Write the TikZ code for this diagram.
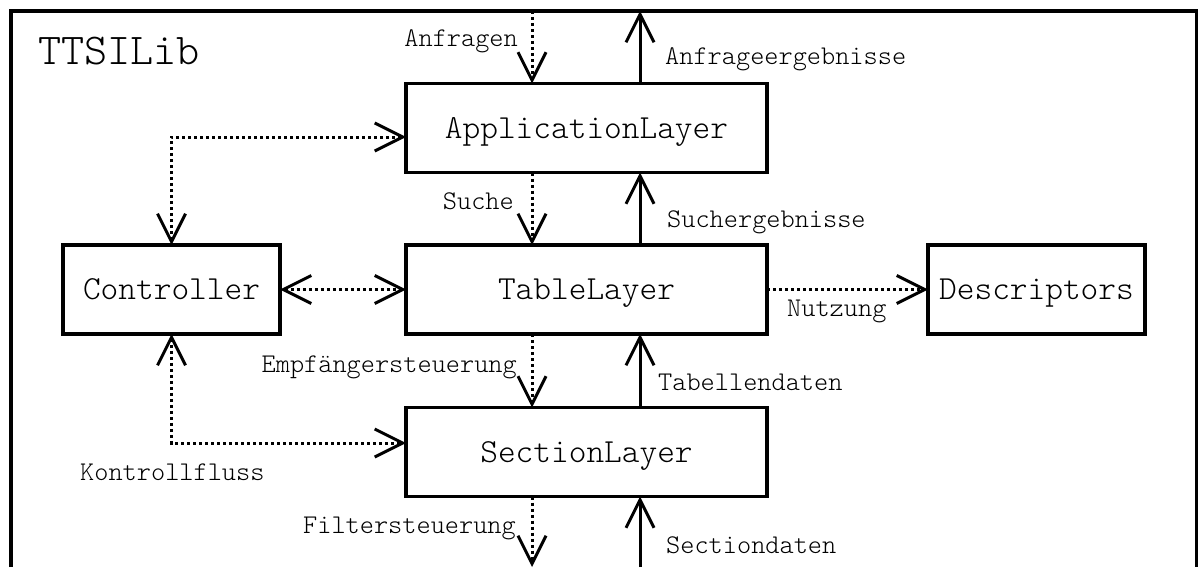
\documentclass[tikz,border=0pt]{standalone}
\usepackage{tikz}
\usetikzlibrary{arrows.meta}

\newcommand{\layerfont}{\fontfamily{lmtt}\fontseries{l}\fontsize{33.7}{40}\selectfont}
\newcommand{\labelfont}{\fontfamily{lmtt}\fontseries{l}\fontsize{27}{32}\selectfont}
\newcommand{\titlefont}{\fontfamily{lmtt}\fontseries{l}\fontsize{44}{52}\selectfont}

\tikzset{
	layer/.style={draw, line width=3.5pt, inner sep=0pt, outer sep=0pt, minimum height=89pt, text height=20.6pt, text depth=0pt, font=\layerfont},
	flow/.style={line width=3pt, dash pattern=on 3pt off 3pt},
	data/.style={line width=3pt},
	lbl/.style={inner sep=0pt, font=\labelfont},
	>={Straight Barb[length=28pt,width=28pt]}
}

\begin{document}
\begin{tikzpicture}[x=1pt, y=-1pt]

	\useasboundingbox (0,0) rectangle (1198,567);
	\draw[line width=4pt, line join=miter] (10.5,567) -- (10.5,11) -- (1196.5,11) -- (1196.5,567);

	\coordinate (top) at (0,11);
	\coordinate (bot) at (0,567);
	\coordinate (dl) at (532,0);
	\coordinate (sl) at (640,0);

	\node[anchor=base west, inner sep=0pt, font=\titlefont] (lib) at (38,65) {TTSILib};

	\node[layer, minimum width=361pt] (app) at (586.5,128) {ApplicationLayer};
	\node[layer, minimum width=361pt] (tab) at (586.5,289.5) {TableLayer};
	\node[layer, minimum width=361pt] (sec) at (586.5,452) {SectionLayer};
	\node[layer, minimum width=217pt] (ctrl) at (171.5,289.5) {Controller};
	\node[layer, minimum width=217pt] (desc) at (1036.5,289.5) {Descriptors};

	\draw[flow,->] (top -| dl) -- (app.north -| dl);
	\draw[data,->] (app.north -| sl) -- (top -| sl);
	\draw[flow,->] (app.south -| dl) -- (tab.north -| dl);
	\draw[data,->] (tab.north -| sl) -- (app.south -| sl);
	\draw[flow,->] (tab.south -| dl) -- (sec.north -| dl);
	\draw[data,->] (sec.north -| sl) -- (tab.south -| sl);
	\draw[flow,->] (sec.south -| dl) -- (bot -| dl);
	\draw[data,->] (bot -| sl) -- (sec.south -| sl);

	\draw[flow,<->] (ctrl.north) |- ([yshift=-9pt]app.west);
	\draw[flow,<->] (ctrl.east) -- (tab.west);
	\draw[flow,<->] (ctrl.south) |- ([yshift=9pt]sec.west);
	\draw[flow,->] (tab.east) -- (desc.west);

	\node[lbl, anchor=base east] (anf) at (518,47) {Anfragen};
	\node[lbl, anchor=base west] (anferg) at (665,65) {Anfrageergebnisse};
	\node[lbl, anchor=base east] (such) at (514,209) {Suche};
	\node[lbl, anchor=base west] (sucherg) at (667,227) {Suchergebnisse};
	\node[lbl, anchor=base east] (empf) at (517,372) {Empfängersteuerung};
	\node[lbl, anchor=base west] (tabd) at (658,390) {Tabellendaten};
	\node[lbl, anchor=base east] (filt) at (516,533) {Filtersteuerung};
	\node[lbl, anchor=base west] (secd) at (666,553) {Sectiondaten};
	\node[lbl, anchor=base west] (kontr) at (80,480) {Kontrollfluss};
	\node[lbl, anchor=base west] (nutz) at (787,316) {Nutzung};

\end{tikzpicture}
\end{document}
